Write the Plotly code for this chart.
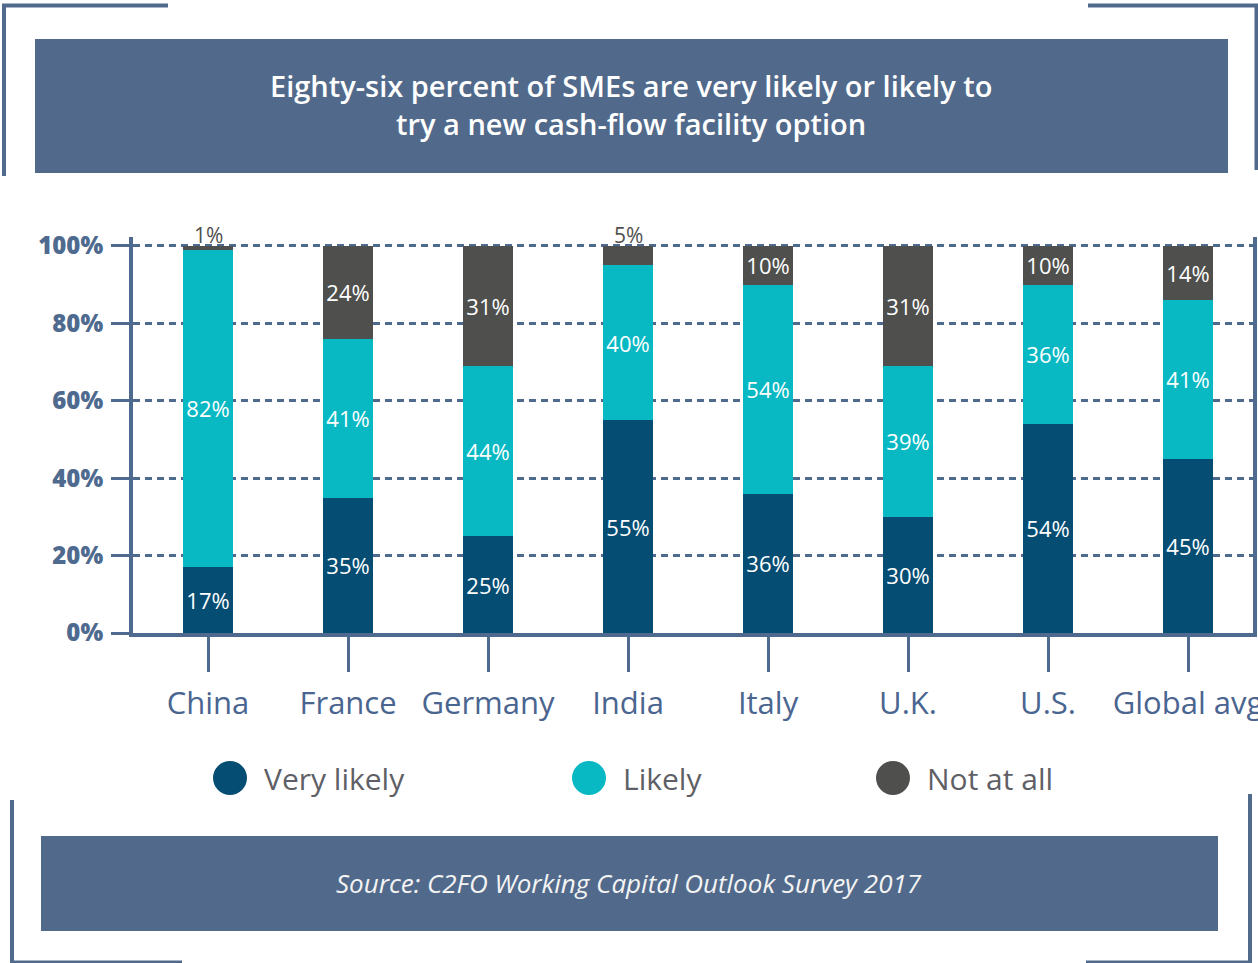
import plotly.graph_objects as go

# ---- data ----
categories = ["China", "France", "Germany", "India", "Italy", "U.K.", "U.S.", "Global avg"]
very_likely = [17, 35, 25, 55, 36, 30, 54, 45]
likely = [82, 41, 44, 40, 54, 39, 36, 41]
not_at_all = [1, 24, 31, 5, 10, 31, 10, 14]
series_names = ["Very likely", "Likely", "Not at all"]
y_ticks = [0, 20, 40, 60, 80, 100]
title_lines = ["Eighty-six percent of SMEs are very likely or likely to", "try a new cash-flow facility option"]
source_text = "Source: C2FO Working Capital Outlook Survey 2017"

# ---- style ----
W, H = 1258, 963
L, R, T, B = 133, 1253, 237, 633
C_VL, C_L, C_N = "#064d73", "#08b9c4", "#4f4f4d"
AX = "#4f6a8f"
BOX = "#516a8b"
FONT = "Open Sans"
SMALL = 8  # segments below this value get their label above the bar


def px(x):
    return (x - L) / (R - L)


def py(y):
    return (B - y) / (B - T)


fig = go.Figure()
colors = [C_VL, C_L, C_N]
all_series = [very_likely, likely, not_at_all]
for name, vals, col in zip(series_names, all_series, colors):
    is_top = name == series_names[-1]
    texts = ["" if (is_top and v < SMALL) else f"{v}%" for v in vals]
    fig.add_trace(go.Bar(
        x=categories, y=vals, name=name, marker=dict(color=col, line=dict(width=0)),
        width=0.36,
        text=texts, textposition="inside",
        insidetextanchor="middle", textangle=0, constraintext="none",
        insidetextfont=dict(family=FONT, size=22, color="white"),
        cliponaxis=False, showlegend=False, hoverinfo="skip",
    ))

fig.update_layout(
    width=W, height=H, barmode="stack",
    margin=dict(l=L, r=W - R, t=T, b=H - B, pad=0, autoexpand=False),
    paper_bgcolor="white", plot_bgcolor="white",
    showlegend=False,
    font=dict(family=FONT),
    xaxis=dict(
        range=[-0.536, 7.464], showline=True, linecolor=AX, linewidth=4,
        ticks="outside", ticklen=35, tickwidth=3, tickcolor=AX, ticklabelstandoff=5,
        tickfont=dict(family=FONT, size=31, color="#4a6590"),
        showgrid=False, zeroline=False, fixedrange=True, automargin=False,
    ),
    yaxis=dict(
        range=[0, 102.3], tickvals=y_ticks, ticktext=[f"{v}%" for v in y_ticks],
        showline=True, linecolor=AX, linewidth=4, mirror=True,
        ticks="outside", ticklen=18, tickwidth=3, tickcolor=AX, ticklabelstandoff=3,
        tickfont=dict(family=FONT, size=24, color=AX, weight=800),
        showgrid=True, gridcolor=AX, gridwidth=2.5, griddash="7px,5px",
        zeroline=False, fixedrange=True, automargin=False,
    ),
)

shapes = []
# header & source boxes
shapes.append(dict(type="rect", xref="paper", yref="paper", x0=px(35), x1=px(1228), y0=py(173), y1=py(39),
                   fillcolor=BOX, line=dict(width=0), layer="below"))
shapes.append(dict(type="rect", xref="paper", yref="paper", x0=px(41), x1=px(1218), y0=py(931), y1=py(836),
                   fillcolor=BOX, line=dict(width=0), layer="below"))


def seg(x0, y0, x1, y1, w):
    return dict(type="line", xref="paper", yref="paper", x0=px(x0), y0=py(y0), x1=px(x1), y1=py(y1),
                line=dict(color=BOX, width=w))


# corner brackets
shapes += [
    seg(2, 5.5, 168, 5.5, 4), seg(4, 4, 4, 176, 4),
    seg(1088, 5.5, 1258, 5.5, 4), seg(1256.5, 4, 1256.5, 170, 4),
    seg(12, 800, 12, 962, 4), seg(10, 962, 182, 962, 3),
    seg(1250, 794, 1250, 962, 4), seg(1086, 962, 1252, 962, 3),
]
# legend circles
legend_pos = [(230, 262), (589, 621), (893, 925)]
for (cx, tx), col in zip(legend_pos, colors):
    shapes.append(dict(type="circle", xref="paper", yref="paper", xsizemode="pixel", ysizemode="pixel",
                       xanchor=px(cx), yanchor=py(778), x0=-17, x1=17, y0=-17, y1=17,
                       fillcolor=col, line=dict(width=0)))
fig.update_layout(shapes=shapes)

annotations = []
for line, yy in zip(title_lines, [85, 123]):
    annotations.append(dict(text=line, xref="paper", yref="paper", x=px(631), y=py(yy), showarrow=False,
                            xanchor="center", yanchor="middle",
                            font=dict(family=FONT, size=29, color="white", weight=600)))
annotations.append(dict(text=f"<i>{source_text}</i>", xref="paper", yref="paper", x=px(629), y=py(883),
                        showarrow=False, xanchor="center", yanchor="middle",
                        font=dict(family=FONT, size=26, color="#f4f4f4")))
for (cx, tx), name in zip(legend_pos, series_names):
    annotations.append(dict(text=name, xref="paper", yref="paper", x=px(tx), y=py(778), showarrow=False,
                            xanchor="left", yanchor="middle",
                            font=dict(family=FONT, size=30, color="#5f5f66")))
# small top-segment labels placed above their bars (data coordinates)
for cat, a, b, c in zip(categories, very_likely, likely, not_at_all):
    if c < SMALL:
        annotations.append(dict(text=f"{c}%", x=cat, y=a + b + c, xref="x", yref="y", showarrow=False,
                                xanchor="center", yanchor="bottom", yshift=-5,
                                font=dict(family=FONT, size=21, color=C_N)))
fig.update_layout(annotations=annotations)

fig.write_html(
    "out.html",
    config={"displayModeBar": False},
    post_script="document.body.style.margin='0';document.body.style.overflow='hidden';",
)
